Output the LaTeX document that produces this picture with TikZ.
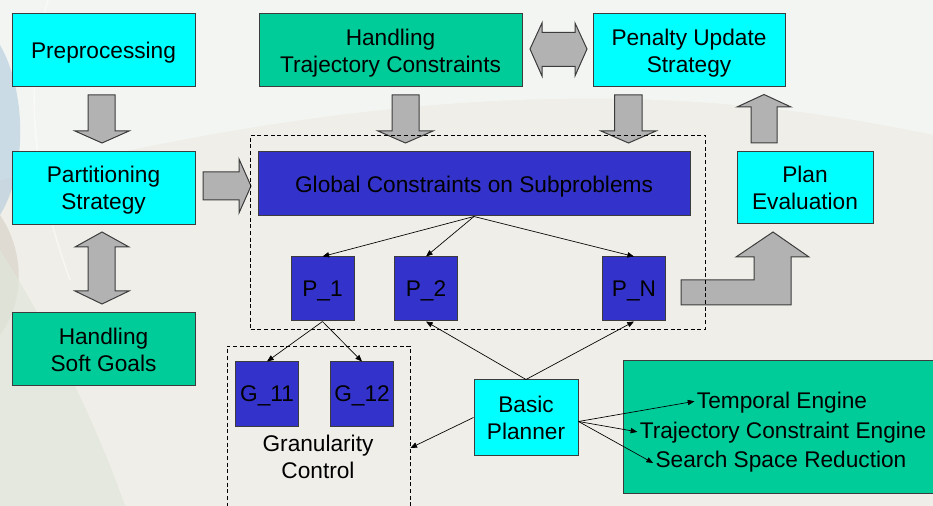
\documentclass[tikz,border=0pt]{standalone}
\usepackage{fontspec}
\setmainfont{Liberation Sans}
\usetikzlibrary{arrows.meta}

\definecolor{boxcyan}{RGB}{0,255,255}
\definecolor{boxgreen}{RGB}{0,204,153}
\definecolor{boxblue}{RGB}{51,51,204}
\definecolor{arrowgray}{RGB}{178,178,178}
\definecolor{edgegray}{RGB}{60,60,60}
\definecolor{slidebg}{RGB}{239,238,232}
\definecolor{slidetop}{RGB}{244,247,245}
\definecolor{swooshblue}{RGB}{165,195,218}
\definecolor{swooshgrey}{RGB}{210,205,194}
\definecolor{swooshgreen}{RGB}{224,230,218}

\tikzset{every picture/.style={line width=0.75pt}}
\tikzset{
box/.style={draw=edgegray, line width=0.75pt, align=center, inner sep=0pt, text depth=0pt, font=\fontsize{17}{20.25}\selectfont},
cyanbox/.style={box, fill=boxcyan},
greenbox/.style={box, fill=boxgreen},
bluebox/.style={box, fill=boxblue},
sidebox/.style={minimum width=137.25pt, minimum height=54.75pt},
subbox/.style={bluebox, minimum width=47.25pt, minimum height=48pt},
group/.style={draw=black, line width=0.6pt, dash pattern={on 3pt off 2pt}},
label/.style={inner sep=1.5pt, text depth=0pt, font=\fontsize{17}{20.25}\selectfont, align=center},
blockarrow/.style={draw=edgegray, fill=arrowgray, line width=0.75pt},
link/.style={-{Triangle[length=5pt,width=4pt]}, line width=0.5pt}
}

\begin{document}
\begin{tikzpicture}[x=0.75pt,y=0.75pt,yscale=-1,xscale=1]
\clip (0,0) rectangle (933,506);

%Background
\fill[slidebg] (0,0) rectangle (933,506);
\fill[slidetop, opacity=0.8] (0,0) -- (933,0) -- (933,135) .. controls (700,85) and (420,75) .. (0,180) -- cycle;
\fill[swooshblue, opacity=0.5] (0,45) .. controls (26,90) and (28,170) .. (0,215) -- cycle;
\fill[swooshgrey, opacity=0.55] (0,215) .. controls (24,250) and (26,300) .. (0,335) -- cycle;
\fill[swooshgreen, opacity=0.7] (0,250) .. controls (45,320) and (95,420) .. (125,506) -- (0,506) -- cycle;
\draw[white, opacity=0.5, line width=1.2pt] (48,0) .. controls (25,80) and (30,170) .. (70,280);

%Block arrows
\draw[blockarrow] (88,95) -- (115,95) -- (115,131) -- (129,131) -- (102,143) -- (75,131) -- (88,131) -- cycle;
\draw[blockarrow] (203,172) -- (239,172) -- (239,159) -- (251,186) -- (239,213) -- (239,200) -- (203,200) -- cycle;
\draw[blockarrow] (102,232) -- (129,247) -- (115,247) -- (115,291) -- (129,291) -- (102,304) -- (75,291) -- (88,291) -- (88,247) -- (75,247) -- cycle;
\draw[blockarrow] (392,95) -- (419,95) -- (419,131) -- (433,131) -- (405.5,143) -- (378,131) -- (392,131) -- cycle;
\draw[blockarrow] (614.5,95) -- (642,95) -- (642,131) -- (656,131) -- (628.5,143) -- (601,131) -- (614.5,131) -- cycle;
\draw[blockarrow] (530,49) -- (542,23) -- (542,32.5) -- (575,32.5) -- (575,23) -- (587,49) -- (575,76) -- (575,66.5) -- (542,66.5) -- (542,76) -- cycle;
\draw[blockarrow] (764,94.5) -- (791,107) -- (777,107) -- (777,143) -- (751,143) -- (751,107) -- (737,107) -- cycle;
\draw[blockarrow] (681,280) -- (754,280) -- (754,257) -- (736,257) -- (773,232) -- (809,257) -- (791,257) -- (791,305) -- (681,305) -- cycle;

%Dashed groups
\node[group, minimum width=341.25pt, minimum height=145.5pt] (sub) at (478,232) {};
\node[group, minimum width=137.25pt, minimum height=138pt] (gran) at (318.5,438) {};

%Left column
\node[cyanbox, sidebox] (pre) at (103.5,50.5) {Preprocessing};
\node[cyanbox, sidebox] (part) at (103.5,188) {Partitioning\\Strategy};
\node[greenbox, sidebox] (soft) at (103.5,349.5) {Handling\\Soft Goals};

%Top row
\node[greenbox, minimum width=197.25pt, minimum height=54.75pt] (traj) at (390.5,50.5) {Handling\\Trajectory Constraints};
\node[cyanbox, minimum width=144pt, minimum height=54.75pt] (pen) at (689,50.5) {Penalty Update\\Strategy};
\node[cyanbox, minimum width=102pt, minimum height=54pt] (plan) at (805,188) {Plan\\Evaluation};

%Subproblems
\node[bluebox, minimum width=324pt, minimum height=48pt] (gc) at (474,184) {Global Constraints on Subproblems};
\node[subbox] (p1) at (322.5,289) {P\_1};
\node[subbox] (p2) at (426,289) {P\_2};
\node[subbox] (pn) at (634,289) {P\_N};
\node[subbox] (g11) at (267,394) {G\_11};
\node[subbox] (g12) at (362,394) {G\_12};
\node[label] (gctl) at (318,457) {Granularity\\Control};

%Planner and engines
\node[cyanbox, minimum width=78pt, minimum height=56.25pt] (bp) at (526,417.5) {Basic\\Planner};
\node[greenbox, minimum width=270pt, minimum height=99pt] (eng) at (803,427) {};
\node[label] (te) at (782,400) {Temporal Engine};
\node[label] (tce) at (783,430.5) {Trajectory Constraint Engine};
\node[label] (ssr) at (781,459) {Search Space Reduction};

%Connectors
\draw[link] (gc.south) -- (p1.north);
\draw[link] (gc.south) -- (p2.north);
\draw[link] (gc.south) -- (pn.north);
\draw[link] (p1.south) -- (g11.north);
\draw[link] (p1.south) -- (g12.north);
\draw[link] (bp.north) -- (p2.south);
\draw[link] (bp.north) -- (pn.south);
\draw[link] (bp.west) -- ([yshift=7.5pt]gran.east);
\draw[link] ([yshift=3pt]bp.east) -- ([yshift=1pt]te.west);
\draw[link] ([yshift=3pt]bp.east) -- ([yshift=1pt]tce.west);
\draw[link] ([yshift=3pt]bp.east) -- ([yshift=3pt]ssr.west);

\end{tikzpicture}
\end{document}
